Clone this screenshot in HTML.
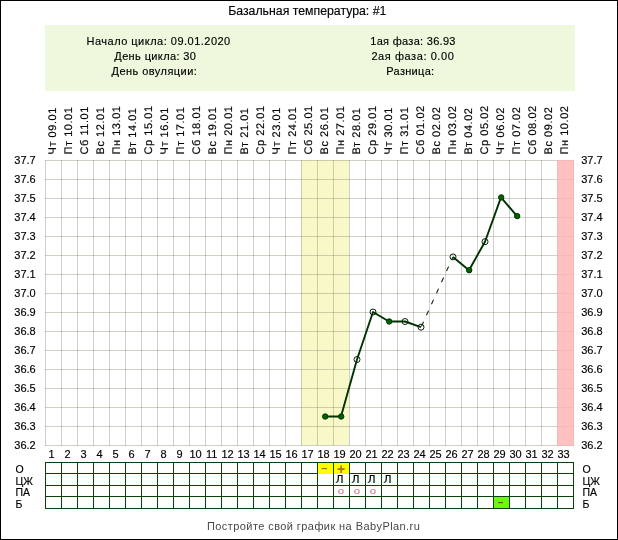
<!DOCTYPE html><html><head><meta charset="utf-8"><style>
html,body{margin:0;padding:0;background:#fff;overflow:hidden;}
svg{display:block;}
text{font-family:"Liberation Sans",Arial,sans-serif;fill:#000;stroke:#000;stroke-width:0.15px;} text.c{stroke:none;}
</style></head><body>
<svg width="618" height="540" viewBox="0 0 618 540">
<rect x="0" y="0" width="618" height="540" fill="#fff"/>
<rect x="0.5" y="0.5" width="617" height="539" fill="none" stroke="#000" stroke-width="1"/>
<text x="228.2" y="15" font-size="12.3" letter-spacing="0.0">Базальная температура: #1</text>
<rect x="45" y="25" width="530" height="66" fill="#eef8dc"/>
<text x="86.5" y="45" font-size="11" letter-spacing="0.49">Начало цикла: 09.01.2020</text>
<text x="114.3" y="60" font-size="11" letter-spacing="0.38">День цикла: 30</text>
<text x="111.5" y="75" font-size="11" letter-spacing="0.45">День овуляции:</text>
<text x="370.3" y="45" font-size="11" letter-spacing="0.29">1ая фаза: 36.93</text>
<text x="371.4" y="60" font-size="11" letter-spacing="0.57">2ая фаза: 0.00</text>
<text x="386.3" y="75" font-size="11" letter-spacing="0.31">Разница:</text>
<text transform="translate(56,154.5) rotate(-90)" font-size="11" letter-spacing="0.55" text-rendering="geometricPrecision">Чт 09.01</text>
<text transform="translate(72,154.5) rotate(-90)" font-size="11" letter-spacing="0.55" text-rendering="geometricPrecision">Пт 10.01</text>
<text transform="translate(88,154.5) rotate(-90)" font-size="11" letter-spacing="0.55" text-rendering="geometricPrecision">Сб 11.01</text>
<text transform="translate(104,154.5) rotate(-90)" font-size="11" letter-spacing="0.55" text-rendering="geometricPrecision">Вс 12.01</text>
<text transform="translate(120,154.5) rotate(-90)" font-size="11" letter-spacing="0.55" text-rendering="geometricPrecision">Пн 13.01</text>
<text transform="translate(136,154.5) rotate(-90)" font-size="11" letter-spacing="0.55" text-rendering="geometricPrecision">Вт 14.01</text>
<text transform="translate(152,154.5) rotate(-90)" font-size="11" letter-spacing="0.55" text-rendering="geometricPrecision">Ср 15.01</text>
<text transform="translate(168,154.5) rotate(-90)" font-size="11" letter-spacing="0.55" text-rendering="geometricPrecision">Чт 16.01</text>
<text transform="translate(184,154.5) rotate(-90)" font-size="11" letter-spacing="0.55" text-rendering="geometricPrecision">Пт 17.01</text>
<text transform="translate(200,154.5) rotate(-90)" font-size="11" letter-spacing="0.55" text-rendering="geometricPrecision">Сб 18.01</text>
<text transform="translate(216,154.5) rotate(-90)" font-size="11" letter-spacing="0.55" text-rendering="geometricPrecision">Вс 19.01</text>
<text transform="translate(232,154.5) rotate(-90)" font-size="11" letter-spacing="0.55" text-rendering="geometricPrecision">Пн 20.01</text>
<text transform="translate(248,154.5) rotate(-90)" font-size="11" letter-spacing="0.55" text-rendering="geometricPrecision">Вт 21.01</text>
<text transform="translate(264,154.5) rotate(-90)" font-size="11" letter-spacing="0.55" text-rendering="geometricPrecision">Ср 22.01</text>
<text transform="translate(280,154.5) rotate(-90)" font-size="11" letter-spacing="0.55" text-rendering="geometricPrecision">Чт 23.01</text>
<text transform="translate(296,154.5) rotate(-90)" font-size="11" letter-spacing="0.55" text-rendering="geometricPrecision">Пт 24.01</text>
<text transform="translate(312,154.5) rotate(-90)" font-size="11" letter-spacing="0.55" text-rendering="geometricPrecision">Сб 25.01</text>
<text transform="translate(328,154.5) rotate(-90)" font-size="11" letter-spacing="0.55" text-rendering="geometricPrecision">Вс 26.01</text>
<text transform="translate(344,154.5) rotate(-90)" font-size="11" letter-spacing="0.55" text-rendering="geometricPrecision">Пн 27.01</text>
<text transform="translate(360,154.5) rotate(-90)" font-size="11" letter-spacing="0.55" text-rendering="geometricPrecision">Вт 28.01</text>
<text transform="translate(376,154.5) rotate(-90)" font-size="11" letter-spacing="0.55" text-rendering="geometricPrecision">Ср 29.01</text>
<text transform="translate(392,154.5) rotate(-90)" font-size="11" letter-spacing="0.55" text-rendering="geometricPrecision">Чт 30.01</text>
<text transform="translate(408,154.5) rotate(-90)" font-size="11" letter-spacing="0.55" text-rendering="geometricPrecision">Пт 31.01</text>
<text transform="translate(424,154.5) rotate(-90)" font-size="11" letter-spacing="0.55" text-rendering="geometricPrecision">Сб 01.02</text>
<text transform="translate(440,154.5) rotate(-90)" font-size="11" letter-spacing="0.55" text-rendering="geometricPrecision">Вс 02.02</text>
<text transform="translate(456,154.5) rotate(-90)" font-size="11" letter-spacing="0.55" text-rendering="geometricPrecision">Пн 03.02</text>
<text transform="translate(472,154.5) rotate(-90)" font-size="11" letter-spacing="0.55" text-rendering="geometricPrecision">Вт 04.02</text>
<text transform="translate(488,154.5) rotate(-90)" font-size="11" letter-spacing="0.55" text-rendering="geometricPrecision">Ср 05.02</text>
<text transform="translate(504,154.5) rotate(-90)" font-size="11" letter-spacing="0.55" text-rendering="geometricPrecision">Чт 06.02</text>
<text transform="translate(520,154.5) rotate(-90)" font-size="11" letter-spacing="0.55" text-rendering="geometricPrecision">Пт 07.02</text>
<text transform="translate(536,154.5) rotate(-90)" font-size="11" letter-spacing="0.55" text-rendering="geometricPrecision">Сб 08.02</text>
<text transform="translate(552,154.5) rotate(-90)" font-size="11" letter-spacing="0.55" text-rendering="geometricPrecision">Вс 09.02</text>
<text transform="translate(568,154.5) rotate(-90)" font-size="11" letter-spacing="0.55" text-rendering="geometricPrecision">Пн 10.02</text>
<rect x="301" y="160" width="48" height="285" fill="#f8f8c8"/>
<path d="M45.5 160V446M61.5 160V446M77.5 160V446M93.5 160V446M109.5 160V446M125.5 160V446M141.5 160V446M157.5 160V446M173.5 160V446M189.5 160V446M205.5 160V446M221.5 160V446M237.5 160V446M253.5 160V446M269.5 160V446M285.5 160V446M301.5 160V446M317.5 160V446M333.5 160V446M349.5 160V446M365.5 160V446M381.5 160V446M397.5 160V446M413.5 160V446M429.5 160V446M445.5 160V446M461.5 160V446M477.5 160V446M493.5 160V446M509.5 160V446M525.5 160V446M541.5 160V446M557.5 160V446M573.5 160V446M45 160.5H574M45 179.5H574M45 198.5H574M45 217.5H574M45 236.5H574M45 255.5H574M45 274.5H574M45 293.5H574M45 312.5H574M45 331.5H574M45 350.5H574M45 369.5H574M45 388.5H574M45 407.5H574M45 426.5H574M45 445.5H574" stroke="rgb(120,120,100)" stroke-opacity="0.35" stroke-width="1" fill="none"/>
<rect x="557" y="160" width="17" height="286" fill="rgb(255,176,176)" fill-opacity="0.8"/>
<text x="14.3" y="164" font-size="11">37.7</text>
<text x="581.2" y="164" font-size="11">37.7</text>
<text x="14.3" y="183" font-size="11">37.6</text>
<text x="581.2" y="183" font-size="11">37.6</text>
<text x="14.3" y="202" font-size="11">37.5</text>
<text x="581.2" y="202" font-size="11">37.5</text>
<text x="14.3" y="221" font-size="11">37.4</text>
<text x="581.2" y="221" font-size="11">37.4</text>
<text x="14.3" y="240" font-size="11">37.3</text>
<text x="581.2" y="240" font-size="11">37.3</text>
<text x="14.3" y="259" font-size="11">37.2</text>
<text x="581.2" y="259" font-size="11">37.2</text>
<text x="14.3" y="278" font-size="11">37.1</text>
<text x="581.2" y="278" font-size="11">37.1</text>
<text x="14.3" y="297" font-size="11">37.0</text>
<text x="581.2" y="297" font-size="11">37.0</text>
<text x="14.3" y="316" font-size="11">36.9</text>
<text x="581.2" y="316" font-size="11">36.9</text>
<text x="14.3" y="335" font-size="11">36.8</text>
<text x="581.2" y="335" font-size="11">36.8</text>
<text x="14.3" y="354" font-size="11">36.7</text>
<text x="581.2" y="354" font-size="11">36.7</text>
<text x="14.3" y="373" font-size="11">36.6</text>
<text x="581.2" y="373" font-size="11">36.6</text>
<text x="14.3" y="392" font-size="11">36.5</text>
<text x="581.2" y="392" font-size="11">36.5</text>
<text x="14.3" y="411" font-size="11">36.4</text>
<text x="581.2" y="411" font-size="11">36.4</text>
<text x="14.3" y="430" font-size="11">36.3</text>
<text x="581.2" y="430" font-size="11">36.3</text>
<text x="14.3" y="449" font-size="11">36.2</text>
<text x="581.2" y="449" font-size="11">36.2</text>
<text x="51.6" y="458" font-size="11" text-anchor="middle">1</text>
<text x="67.6" y="458" font-size="11" text-anchor="middle">2</text>
<text x="83.6" y="458" font-size="11" text-anchor="middle">3</text>
<text x="99.6" y="458" font-size="11" text-anchor="middle">4</text>
<text x="115.6" y="458" font-size="11" text-anchor="middle">5</text>
<text x="131.6" y="458" font-size="11" text-anchor="middle">6</text>
<text x="147.6" y="458" font-size="11" text-anchor="middle">7</text>
<text x="163.6" y="458" font-size="11" text-anchor="middle">8</text>
<text x="179.6" y="458" font-size="11" text-anchor="middle">9</text>
<text x="195.6" y="458" font-size="11" text-anchor="middle">10</text>
<text x="211.6" y="458" font-size="11" text-anchor="middle">11</text>
<text x="227.6" y="458" font-size="11" text-anchor="middle">12</text>
<text x="243.6" y="458" font-size="11" text-anchor="middle">13</text>
<text x="259.6" y="458" font-size="11" text-anchor="middle">14</text>
<text x="275.6" y="458" font-size="11" text-anchor="middle">15</text>
<text x="291.6" y="458" font-size="11" text-anchor="middle">16</text>
<text x="307.6" y="458" font-size="11" text-anchor="middle">17</text>
<text x="323.6" y="458" font-size="11" text-anchor="middle">18</text>
<text x="339.6" y="458" font-size="11" text-anchor="middle">19</text>
<text x="355.6" y="458" font-size="11" text-anchor="middle">20</text>
<text x="371.6" y="458" font-size="11" text-anchor="middle">21</text>
<text x="387.6" y="458" font-size="11" text-anchor="middle">22</text>
<text x="403.6" y="458" font-size="11" text-anchor="middle">23</text>
<text x="419.6" y="458" font-size="11" text-anchor="middle">24</text>
<text x="435.6" y="458" font-size="11" text-anchor="middle">25</text>
<text x="451.6" y="458" font-size="11" text-anchor="middle">26</text>
<text x="467.6" y="458" font-size="11" text-anchor="middle">27</text>
<text x="483.6" y="458" font-size="11" text-anchor="middle">28</text>
<text x="499.6" y="458" font-size="11" text-anchor="middle">29</text>
<text x="515.6" y="458" font-size="11" text-anchor="middle">30</text>
<text x="531.6" y="458" font-size="11" text-anchor="middle">31</text>
<text x="547.6" y="458" font-size="11" text-anchor="middle">32</text>
<text x="563.6" y="458" font-size="11" text-anchor="middle">33</text>
<polyline points="325,416.5 341,416.5 357,359.5 373,312.0 389,321.5 405,321.5 421,327.2" fill="none" stroke="#003200" stroke-width="1.9" stroke-linejoin="round"/>
<polyline points="453,256.9 469,270.2 485,241.7 501,197.4 517,216.1" fill="none" stroke="#003200" stroke-width="1.9" stroke-linejoin="round"/>
<line x1="421" y1="327.2" x2="453" y2="256.9" stroke="#0a2a0a" stroke-width="1.1" stroke-dasharray="5 7.1" stroke-dashoffset="-1.1"/>
<circle cx="325.2" cy="416.5" r="2.7" fill="#006400" stroke="#003000" stroke-width="1"/>
<circle cx="341.2" cy="416.5" r="2.7" fill="#006400" stroke="#003000" stroke-width="1"/>
<circle cx="357" cy="359.5" r="3" fill="none" stroke="#0a200a" stroke-width="1"/>
<circle cx="373" cy="312.0" r="3" fill="none" stroke="#0a200a" stroke-width="1"/>
<circle cx="389.2" cy="321.5" r="2.7" fill="#006400" stroke="#003000" stroke-width="1"/>
<circle cx="405" cy="321.5" r="3" fill="none" stroke="#0a200a" stroke-width="1"/>
<circle cx="421" cy="327.2" r="3" fill="none" stroke="#0a200a" stroke-width="1"/>
<circle cx="453" cy="256.9" r="3" fill="none" stroke="#0a200a" stroke-width="1"/>
<circle cx="469.2" cy="270.2" r="2.7" fill="#006400" stroke="#003000" stroke-width="1"/>
<circle cx="485" cy="241.7" r="3" fill="none" stroke="#0a200a" stroke-width="1"/>
<circle cx="501.2" cy="197.4" r="2.7" fill="#006400" stroke="#003000" stroke-width="1"/>
<circle cx="517.2" cy="216.1" r="2.7" fill="#006400" stroke="#003000" stroke-width="1"/>
<path d="M45.5 462V509M61.5 462V509M77.5 462V509M93.5 462V509M109.5 462V509M125.5 462V509M141.5 462V509M157.5 462V509M173.5 462V509M189.5 462V509M205.5 462V509M221.5 462V509M237.5 462V509M253.5 462V509M269.5 462V509M285.5 462V509M301.5 462V509M317.5 462V509M333.5 462V509M349.5 462V509M365.5 462V509M381.5 462V509M397.5 462V509M413.5 462V509M429.5 462V509M445.5 462V509M461.5 462V509M477.5 462V509M493.5 462V509M509.5 462V509M525.5 462V509M541.5 462V509M557.5 462V509M573.5 462V509M45 462.5H574M45 473.5H574M45 485.5H574M45 496.5H574M45 508.5H574" stroke="#0a400a" stroke-width="1" fill="none"/>
<rect x="318" y="463" width="15" height="11" fill="#ffff00"/>
<rect x="334" y="463" width="15" height="11" fill="#ffff00"/>
<rect x="494" y="497" width="15" height="11" fill="#6efa06"/>
<text x="324.4" y="472.4" font-size="11" font-weight="bold" text-anchor="middle" class="c" style="fill:#a86000">–</text>
<text x="341" y="473.7" font-size="14" font-weight="bold" text-anchor="middle" class="c" style="fill:#b26a1c">+</text>
<text x="339.5" y="483" font-size="10.8" text-anchor="middle" style="font-family:DejaVu Sans">Л</text>
<text x="355.5" y="483" font-size="10.8" text-anchor="middle" style="font-family:DejaVu Sans">Л</text>
<text x="371.5" y="483" font-size="10.8" text-anchor="middle" style="font-family:DejaVu Sans">Л</text>
<text x="387.5" y="483" font-size="10.8" text-anchor="middle" style="font-family:DejaVu Sans">Л</text>
<text transform="translate(341,493.6) scale(1.35,1)" font-size="8.5" text-anchor="middle" class="c" style="fill:#d06a88">o</text>
<text transform="translate(357,493.6) scale(1.35,1)" font-size="8.5" text-anchor="middle" class="c" style="fill:#d06a88">o</text>
<text transform="translate(373,493.6) scale(1.35,1)" font-size="8.5" text-anchor="middle" class="c" style="fill:#d06a88">o</text>
<text x="500.5" y="505.6" font-size="10" font-weight="bold" text-anchor="middle" class="c" style="fill:#6a5000">–</text>
<text x="15.5" y="473" font-size="10.5">О</text>
<text x="582.5" y="473" font-size="10.5">О</text>
<text x="15.5" y="485" font-size="10.5">ЦЖ</text>
<text x="582.5" y="485" font-size="10.5">ЦЖ</text>
<text x="15.5" y="496" font-size="10.5">ПА</text>
<text x="582.5" y="496" font-size="10.5">ПА</text>
<text x="15.5" y="507.5" font-size="10.5">Б</text>
<text x="582.5" y="507.5" font-size="10.5">Б</text>
<text x="207" y="530" font-size="11" letter-spacing="0.42" class="c" style="fill:#474747">Постройте свой график на BabyPlan.ru</text>
</svg></body></html>
